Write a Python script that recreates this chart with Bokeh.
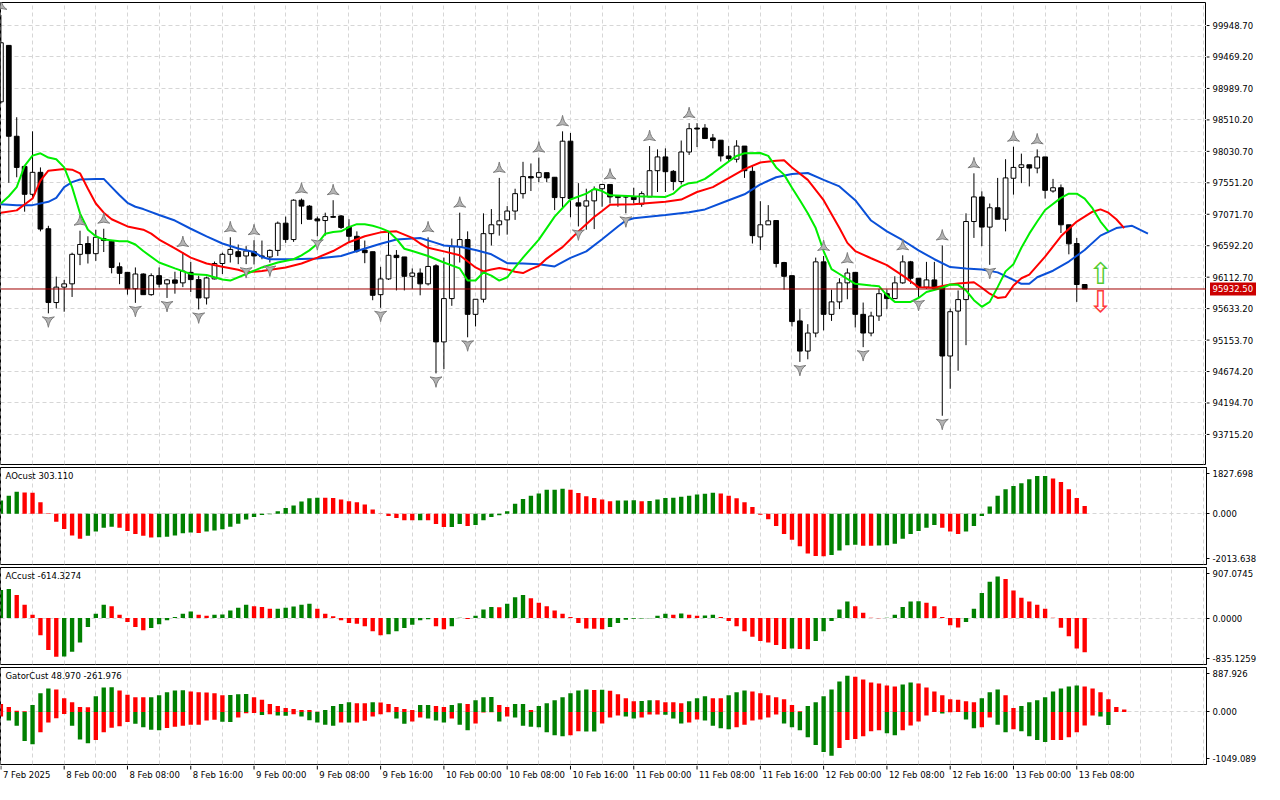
from bokeh.plotting import figure
from bokeh.layouts import column, row
from bokeh.models import Range1d, FixedTicker, Label, Span
from bokeh.core.properties import value
from bokeh.embed import file_html
from bokeh.resources import INLINE

# ---------------- data (bar index = hours since 7 Feb 2025 16:00) ----------------
time_labels = ["7 Feb 2025", "8 Feb 00:00", "8 Feb 08:00", "8 Feb 16:00", "9 Feb 00:00",
               "9 Feb 08:00", "9 Feb 16:00", "10 Feb 00:00", "10 Feb 08:00", "10 Feb 16:00",
               "11 Feb 00:00", "11 Feb 08:00", "11 Feb 16:00", "12 Feb 00:00", "12 Feb 08:00",
               "12 Feb 16:00", "13 Feb 00:00", "13 Feb 08:00"]
label_bars = [0, 8, 16, 24, 32, 40, 48, 56, 64, 72, 80, 88, 96, 104, 112, 120, 128, 136]

open_ = [98786, 99646, 98261, 97801, 97376, 97711, 96851, 95726, 95961, 96011,
         96461, 96626, 96471, 96701, 96661, 96271, 96186, 95936, 96161, 95846,
         96136, 96011, 96071, 96026, 96186, 96076, 95796, 96086, 96321, 96461,
         96501, 96436, 96501, 96436, 96421, 96521, 96936, 96686, 97286, 97196,
         97001, 96976, 97036, 97046, 96876, 96736, 96526, 96501, 95846, 96086,
         96446, 96421, 96126, 96176, 96011, 96286, 95126, 95786, 96576, 96686,
         95546, 95776, 96776, 96911, 96986, 97121, 97386, 97646, 97636, 97706,
         97636, 97326, 98186, 97246, 97196, 97276, 97461, 97526, 97346, 97336,
         97336, 97226, 97336, 97736, 97946, 97726, 97571, 98021, 98386, 98386,
         98236, 98201, 97961, 97911, 98111, 97726, 96726, 96911, 96976, 96336,
         96136, 95446, 94986, 95261, 96346, 95546, 95736, 96026, 96186, 95546,
         95261, 95521, 95861, 95786, 96026, 96346, 96096, 95961, 96071, 95961,
         94911, 95596, 95771, 96961, 97336, 96876, 97171, 96996, 97621, 97786,
         97826, 97776, 97946, 97426, 97476, 96911, 96626, 96001]
high = [100110, 99650, 98551, 97820, 98336, 97786, 96896, 96121, 96071, 96486,
        96821, 96736, 96836, 96851, 96671, 96336, 96186, 96261, 96171, 96171,
        96261, 96086, 96196, 96496, 96346, 96136, 96121, 96351, 96486, 96721,
        96611, 96586, 96676, 96671, 96536, 96961, 97036, 97301, 97311, 97211,
        97036, 97096, 97286, 97061, 96996, 96811, 96671, 96501, 96271, 96811,
        96526, 96421, 96246, 96246, 96720, 96311, 96411, 96701, 97096, 96811,
        95776, 97086, 97151, 97626, 97196, 97461, 97871, 97846, 97936, 97706,
        97636, 98336, 98311, 97546, 97461, 97496, 97526, 97526, 97346, 97346,
        97476, 97421, 98111, 98061, 98076, 97746, 98196, 98461, 98461, 98446,
        98296, 98201, 98111, 98201, 98111, 97811, 97271, 97211, 96976, 96346,
        96136, 95626, 95396, 96411, 96436, 95921, 96096, 96246, 96186, 95726,
        95586, 95936, 95926, 96126, 96446, 96361, 96096, 96346, 96346, 96596,
        95636, 95911, 97086, 97696, 97421, 97236, 97626, 97911, 98101, 97996,
        97826, 98061, 97946, 97611, 97526, 96911, 96711, 96001]
low = [98760, 97551, 97636, 97111, 97336, 96811, 95561, 95636, 95586, 95811,
       96296, 96321, 96361, 96496, 96171, 96006, 95846, 95721, 95846, 95830,
       95956, 95796, 95861, 95961, 95886, 95621, 95696, 96080, 96161, 96336,
       96311, 96311, 96306, 96386, 96336, 96436, 96636, 96651, 96921, 96996,
       96736, 96746, 97016, 96846, 96636, 96486, 96326, 95761, 95646, 96071,
       95911, 95911, 95936, 95836, 95986, 94646, 94711, 95676, 96336, 95196,
       95361, 95726, 96596, 96746, 96761, 96986, 97311, 97426, 97561, 97561,
       97136, 97161, 97026, 96886, 96836, 96846, 97186, 97236, 97186, 97086,
       97236, 97186, 97336, 97411, 97411, 97436, 97526, 97976, 98096, 98226,
       98076, 97876, 97871, 97861, 97626, 96626, 96526, 96911, 96261, 95921,
       95361, 94821, 94861, 95196, 95301, 95446, 95626, 95776, 95346, 95046,
       95211, 95446, 95626, 95786, 96011, 96011, 95811, 95936, 95946, 94000,
       94411, 94686, 95076, 96711, 96586, 96301, 96996, 96811, 97371, 97546,
       97496, 97696, 97311, 97401, 96786, 96461, 95736, 95932.5]
close = [99686, 98261, 97786, 97376, 97711, 96846, 95726, 95961, 96011, 96461,
         96611, 96471, 96721, 96671, 96261, 96171, 95936, 96161, 95846, 96136,
         96006, 96071, 96021, 96206, 96076, 95796, 96101, 96321, 96461, 96536,
         96426, 96511, 96436, 96426, 96521, 96936, 96686, 97286, 97196, 96996,
         96971, 97036, 97026, 96871, 96736, 96511, 96486, 95836, 96086, 96446,
         96411, 96126, 96176, 96011, 96276, 95126, 95786, 96576, 96686, 95546,
         95776, 96776, 96911, 96971, 97121, 97386, 97646, 97626, 97706, 97626,
         97326, 98186, 97311, 97196, 97276, 97446, 97526, 97336, 97326, 97336,
         97296, 97386, 97736, 97946, 97721, 97571, 98021, 98376, 98371, 98226,
         98196, 97961, 97921, 98111, 97736, 96746, 96911, 96971, 96321, 96126,
         95436, 94986, 95261, 96346, 95546, 95736, 96026, 96176, 95546, 95261,
         95521, 95861, 95786, 96026, 96346, 96096, 95961, 96071, 95946, 94911,
         95586, 95771, 96961, 97336, 96876, 97171, 96996, 97626, 97786, 97826,
         97776, 97946, 97436, 97476, 96911, 96621, 96001, 95932.5]
current_price = 95932.5
current_price_text = "95932.50"

# Alligator lines (read at sampled bars; drawn shifted forward as on the chart)
jaw_x = [0, 2, 4, 6, 7, 8, 9, 10, 12, 13, 14, 15, 16, 17, 18, 20, 22, 24, 26, 28,
         30, 32, 33, 34, 37, 40, 43, 45, 48, 50, 53, 55, 56, 58, 60, 62, 64, 66, 68, 70,
         72, 74, 76, 78, 79, 80, 84, 87, 89, 92, 94, 96, 98, 100, 102, 104, 106, 108, 110, 112,
         114, 116, 118, 120, 122, 124, 126, 128, 129, 130, 131, 133, 135, 137, 139, 141, 143, 145]
jaw_y = [97226, 97211, 97211, 97261, 97321, 97486, 97561, 97601, 97611, 97611,
         97486, 97361, 97246, 97186, 97151, 97061, 96976, 96851, 96736, 96626,
         96551, 96496, 96421, 96386, 96386, 96396, 96436, 96511, 96621, 96686,
         96711, 96636, 96596, 96576, 96526, 96461, 96326, 96321, 96311, 96276,
         96406, 96506, 96691, 96886, 96976, 97011, 97061, 97101, 97146, 97286,
         97376, 97526, 97636, 97686, 97701, 97596, 97496, 97286, 96976, 96811,
         96676, 96521, 96386, 96266, 96246, 96231, 96186, 96071, 96011, 96011,
         96111, 96211, 96351, 96526, 96746, 96861, 96896, 96776]
teeth_x = [0, 2, 4, 5, 6, 8, 9, 10, 11, 12, 13, 14, 16, 18, 19, 20, 22, 24, 26, 28,
           30, 31, 33, 36, 38, 40, 42, 44, 46, 48, 50, 52, 53, 54, 56, 58, 60, 61, 62, 63,
           64, 65, 66, 67, 68, 69, 70, 71, 72, 73, 74, 75, 76, 77, 80, 84, 86, 88, 90, 92,
           94, 96, 98, 99, 100, 102, 104, 106, 107, 108, 110, 112, 114, 116, 118, 120, 121, 123, 124, 125,
           126, 127, 128, 129, 130, 132, 134, 136, 138, 139, 140, 141, 142]
teeth_y = [97096, 97131, 97311, 97586, 97736, 97761, 97751, 97696, 97461, 97236,
           97096, 96996, 96886, 96836, 96776, 96686, 96551, 96411, 96321, 96271,
           96226, 96186, 96206, 96261, 96321, 96411, 96511, 96646, 96736, 96796,
           96811, 96711, 96626, 96561, 96506, 96446, 96261, 96201, 96231, 96251,
           96231, 96196, 96176, 96236, 96286, 96396, 96486, 96571, 96691, 96811,
           96921, 97031, 97121, 97216, 97226, 97261, 97296, 97411, 97486, 97621,
           97761, 97861, 97886, 97896, 97786, 97596, 97286, 96861, 96636, 96511,
           96401, 96296, 96136, 95961, 95951, 96001, 96016, 96036, 95951, 95861,
           95796, 95811, 95986, 96096, 96151, 96426, 96736, 96961, 97111, 97146,
           97096, 96996, 96861]
lips_x = [0, 1, 2, 3, 4, 5, 6, 7, 8, 9, 10, 11, 12, 13, 15, 16, 17, 18, 20, 22,
          24, 26, 28, 29, 31, 33, 35, 37, 38, 39, 40, 41, 42, 43, 44, 45, 46, 47, 48, 49,
          50, 51, 52, 54, 56, 58, 59, 60, 61, 62, 63, 64, 65, 66, 68, 70, 72, 74, 75, 76,
          77, 80, 84, 85, 86, 87, 88, 89, 90, 91, 92, 93, 94, 96, 97, 98, 99, 100, 101, 102,
          103, 104, 105, 106, 108, 110, 111, 112, 113, 115, 116, 117, 119, 120, 121, 122, 123, 124, 125, 126,
          127, 128, 129, 130, 131, 132, 134, 135, 136, 137, 138, 139, 140]
lips_y = [97236, 97346, 97486, 97811, 97966, 98001, 97936, 97911, 97786, 97486,
          97086, 96836, 96736, 96686, 96661, 96661, 96611, 96511, 96336, 96246,
          96161, 96146, 96076, 96061, 96161, 96261, 96336, 96386, 96446, 96521,
          96621, 96776, 96801, 96811, 96876, 96921, 96921, 96896, 96861, 96811,
          96696, 96546, 96511, 96436, 96336, 96246, 96061, 96061, 96186, 96136,
          96061, 96111, 96261, 96411, 96686, 97036, 97296, 97386, 97461, 97426,
          97361, 97346, 97336, 97386, 97496, 97546, 97561, 97611, 97696, 97786,
          97876, 97961, 98001, 98006, 97961, 97786, 97676, 97476, 97286, 97086,
          96861, 96511, 96236, 96161, 96011, 95986, 95976, 95836, 95736, 95736,
          95796, 95886, 95951, 96001, 95996, 95911, 95761, 95661, 95736, 95961,
          96201, 96311, 96561, 96776, 96961, 97136, 97321, 97386, 97386, 97311,
          97161, 96961, 96811]

# Fractals
up_fractal_bars = [0, 10, 13, 23, 29, 32, 38, 42, 54, 58, 63, 68, 71, 77, 82, 87,
                   104, 107, 114, 119, 123, 128, 131]
down_fractal_bars = [6, 17, 21, 25, 31, 34, 40, 48, 55, 59, 73, 79, 101, 109, 116, 119, 125]

# Signal arrows
signal_bar = 139
signal_up_price = 96166
signal_down_price = 95738

ao = [517, 711, 866, 840, 828, 453, 13, -323, -608, -866,
      -996, -879, -711, -556, -517, -556, -685, -802, -879, -944,
      -931, -918, -866, -776, -750, -763, -711, -672, -621, -517,
      -401, -233, -129, -52, -26, 91, 220, 323, 478, 608,
      634, 630, 620, 556, 491, 453, 362, 168, -10, -91,
      -168, -259, -262, -259, -262, -414, -530, -527, -414, -491,
      -453, -259, -129, -65, 91, 388, 582, 711, 802, 944,
      948, 983, 944, 815, 685, 621, 556, 491, 517, 522,
      527, 491, 504, 556, 621, 634, 672, 711, 763, 789,
      828, 802, 711, 608, 453, 259, -39, -220, -491, -802,
      -1034, -1293, -1577, -1681, -1690, -1642, -1461, -1254, -1228, -1267,
      -1272, -1265, -1254, -1190, -996, -802, -685, -556, -453, -556,
      -711, -802, -711, -491, -91, 284, 711, 970, 1099, 1202,
      1358, 1487, 1492, 1396, 1254, 970, 621, 303.11]
ac = [504, 522, 415, 237, 59, -308, -575, -694, -690, -605,
      -439, -160, 77, 237, 213, 59, -71, -160, -219, -178,
      -113, -42, 18, 77, 119, 59, 42, 60, 62, 136,
      184, 237, 213, 196, 166, 168, 184, 208, 237, 255,
      166, 77, 30, -42, -89, -101, -148, -237, -308, -291,
      -237, -178, -119, -42, -24, -148, -202, -148, 6, -18,
      42, 154, 196, 193, 255, 374, 415, 356, 273, 213,
      136, 77, 18, -89, -190, -193, -202, -160, -89, -30,
      -15, -8, -3, 42, 77, 59, 80, 59, 42, 45,
      59, 18, -53, -148, -237, -338, -415, -439, -486, -557,
      -546, -557, -560, -415, -237, -53, 154, 297, 213, 95,
      6, -3, 5, 59, 196, 297, 300, 273, 213, 18,
      -130, -172, -71, 166, 451, 652, 747, 700, 492, 362,
      297, 237, 166, 6, -176, -326, -546, -614.3274]
gator_up = [157, 98, 26, 12, 137, 372, 470, 451, 274, 196,
            98, 96, 313, 490, 493, 431, 346, 294, 292, 295,
            333, 392, 431, 433, 411, 392, 390, 372, 333, 340,
            353, 359, 294, 242, 157, 118, 78, 59, 39, 37,
            5, 39, 118, 157, 196, 176, 174, 196, 190, 157,
            98, 59, 39, 137, 140, 118, 98, 137, 176, 157,
            235, 294, 297, 137, 98, 157, 160, 39, 118, 176,
            235, 294, 372, 431, 451, 440, 445, 425, 353, 274,
            215, 218, 235, 232, 196, 194, 176, 215, 274, 313,
            274, 272, 333, 392, 431, 411, 372, 333, 294, 255,
            137, 13, 118, 196, 313, 451, 607, 725, 705, 646,
            588, 568, 529, 509, 549, 588, 568, 490, 411, 333,
            255, 242, 215, 196, 274, 392, 451, 333, 78, 118,
            196, 235, 294, 411, 470, 509, 529, 509, 470, 392,
            255, 98, 48.97]
gator_down = [-91, -170, -274, -581, -646, -405, -209, -124, -39, -274,
              -549, -627, -562, -405, -313, -287, -202, -235, -307, -353,
              -366, -320, -294, -274, -255, -253, -170, -157, -196, -198,
              -111, -26, -22, -59, -46, -72, -74, -46, -91, -163,
              -209, -255, -274, -209, -211, -209, -176, -91, -46, -7,
              -131, -235, -189, -111, -131, -170, -209, -131, -255, -366,
              -229, -13, -8, -189, -91, -111, -274, -294, -307, -405,
              -464, -483, -464, -385, -388, -390, -229, -111, -72, -91,
              -131, -111, -52, -50, -55, -131, -229, -209, -150, -170,
              -274, -327, -346, -307, -255, -170, -150, -111, -52, -229,
              -307, -366, -503, -660, -797, -875, -718, -562, -542, -483,
              -385, -366, -425, -464, -366, -268, -189, -72, -3, -33,
              -7, -3, -150, -327, -307, -111, -255, -405, -346, -385,
              -483, -562, -601, -562, -558, -503, -405, -268, -72, -91,
              -261.976]

price_ticks = [99948.70, 99469.20, 98989.70, 98510.20, 98030.70, 97551.20, 97071.70,
               96592.20, 96112.70, 95633.20, 95153.70, 94674.20, 94194.70, 93715.20]
ao_scale = (-2013.638, 1827.698)
ac_scale = (-835.1259, 907.0745)
gator_scale = (-1049.089, 887.926)

# ---------------- styling ----------------
FONT = "DejaVu Sans"
FS = "8.5px"
GREEN = "#008000"
RED = "#FF0000"
GRID = "#D6D6D6"
FRAME_W = 1206
AXIS_W = 58
X0, X1 = -0.05, 152.4
PX_X = (X1 - X0) / FRAME_W
xr = Range1d(X0, X1)


def trend_colors(vals, first):
    cols = [first]
    for i in range(1, len(vals)):
        cols.append(GREEN if vals[i] > vals[i - 1] else RED)
    return cols


def make_fig(frame_h, y_range, top, bottom, right_axis=True):
    p = figure(frame_width=FRAME_W, frame_height=frame_h, x_range=xr, y_range=y_range,
               y_axis_location="right" if right_axis else None, toolbar_location=None,
               output_backend="svg", min_border_left=0,
               min_border_right=AXIS_W if right_axis else 0, min_border_top=top,
               min_border_bottom=bottom)
    p.outline_line_color = "black"
    p.outline_line_alpha = 1.0
    p.outline_line_width = 1
    p.background_fill_color = "white"
    p.border_fill_color = "white"
    p.xaxis.visible = False
    p.xgrid.ticker = FixedTicker(ticks=list(range(0, 153, 4)))
    p.xgrid.grid_line_color = GRID
    p.xgrid.grid_line_dash = "4 3"
    p.ygrid.grid_line_color = GRID
    p.ygrid.grid_line_dash = "4 3"
    if right_axis:
        ax = p.yaxis[0]
        ax.axis_line_color = "black"
        ax.major_tick_line_color = "black"
        ax.major_tick_out = 3
        ax.major_tick_in = 0
        ax.minor_tick_out = 0
        ax.minor_tick_in = 0
        ax.major_label_standoff = 3
        ax.major_label_text_font = FONT
        ax.major_label_text_font_size = FS
        ax.major_label_text_color = "black"
    return p


def panel_label(p, text, y0, y1, frame_h):
    py = (y1 - y0) / frame_h
    p.add_layout(Label(x=X0 + 5 * PX_X, y=y1 - 3 * py, text=text, text_font=FONT,
                       text_font_size=FS, text_color="black", text_baseline="top",
                       text_align="left"))


def side_ticks(p, lo, hi, frame_h, fmt_lo, fmt_mid, fmt_hi):
    d = (hi - lo) / frame_h * 6
    t_lo, t_hi = lo + d, hi - d
    ax = p.yaxis[0]
    ax.ticker = FixedTicker(ticks=[t_lo, 0.0, t_hi])
    ax.major_label_overrides = {t_lo: fmt_lo, 0.0: fmt_mid, t_hi: fmt_hi}
    p.ygrid.ticker = FixedTicker(ticks=[0.0])


# ---------------- main price panel ----------------
MAIN_H = 462
P_LO, P_HI = 93257, 100300
PY = (P_HI - P_LO) / MAIN_H
yr_main = Range1d(P_LO, P_HI)
pm = make_fig(MAIN_H, yr_main, 2, 2, right_axis=False)
pm.ygrid.ticker = FixedTicker(ticks=price_ticks)

n = len(open_)
idx = list(range(n))
body_top = [max(o, c) for o, c in zip(open_, close)]
body_bot = [min(o, c) for o, c in zip(open_, close)]
body_fill = ["white" if c > o else "black" for o, c in zip(open_, close)]

pm.segment(x0=idx, y0=low, x1=idx, y1=high, line_color="black", line_width=1)
pm.vbar(x=idx, width=0.6, top=body_top, bottom=body_bot, fill_color=body_fill,
        line_color="black", line_width=1)

pm.add_layout(Span(location=current_price, dimension="width", line_color="#A00000", line_width=1))

pm.line(jaw_x, jaw_y, line_color="#0A50D8", line_width=2)
pm.line(teeth_x, teeth_y, line_color="#FF0000", line_width=2)
pm.line(lips_x, lips_y, line_color="#00EE00", line_width=2)

pm.scatter(x=up_fractal_bars, y=[high[i] + 9 * PY for i in up_fractal_bars],
           marker="triangle_pin", size=12, fill_color="#B4B4B4", line_color="#7C7C7C",
           line_width=1)
pm.scatter(x=down_fractal_bars, y=[low[i] - 7 * PY for i in down_fractal_bars],
           marker="triangle_pin", size=12, angle=3.14159, fill_color="#B4B4B4",
           line_color="#7C7C7C", line_width=1)

pm.text(x=[signal_bar], y=[signal_up_price], text=["\u21e7"], text_align="center",
        text_baseline="middle", text_color="#55CC33", text_font=value("DejaVu Sans"),
        text_font_size="30px")
pm.text(x=[signal_bar], y=[signal_down_price], text=["\u21e9"], text_align="center",
        text_baseline="middle", text_color="#FF3B3B", text_font=value("DejaVu Sans"),
        text_font_size="30px")

# price scale drawn in its own strip (so the current-price tag can sit on it)
pax = figure(frame_width=AXIS_W, frame_height=MAIN_H, x_range=Range1d(0, AXIS_W),
             y_range=yr_main, x_axis_location=None, y_axis_location=None,
             toolbar_location=None, output_backend="svg", min_border_left=0,
             min_border_right=0, min_border_top=2, min_border_bottom=2)
pax.outline_line_color = None
pax.grid.visible = False
pax.background_fill_color = "white"
pax.border_fill_color = "white"
pax.segment(x0=[0] * len(price_ticks), y0=price_ticks, x1=[3] * len(price_ticks),
            y1=price_ticks, line_color="black", line_width=1)
pax.text(x=[6] * len(price_ticks), y=price_ticks, text=["%.2f" % t for t in price_ticks],
         text_align="left", text_baseline="middle", text_color="black",
         text_font=value(FONT), text_font_size=FS)
pax.rect(x=[26.5], y=[current_price], width=46, height=13, width_units="screen",
         height_units="screen", fill_color="#CC0000", line_color=None)
pax.text(x=[6], y=[current_price], text=[current_price_text], text_align="left",
         text_baseline="middle", text_color="white", text_font=value(FONT), text_font_size=FS)

# ---------------- AO panel ----------------
SUB_H = 97
pa = make_fig(SUB_H, Range1d(*ao_scale), 1, 2)
side_ticks(pa, ao_scale[0], ao_scale[1], SUB_H, "-2013.638", "0.000", "1827.698")
pa.vbar(x=list(range(len(ao))), width=0.55, top=ao, bottom=0,
        fill_color=trend_colors(ao, GREEN), line_color=None)
panel_label(pa, "AOcust 303.110", ao_scale[0], ao_scale[1], SUB_H)

# ---------------- AC panel ----------------
pc = make_fig(SUB_H, Range1d(*ac_scale), 1, 2)
side_ticks(pc, ac_scale[0], ac_scale[1], SUB_H, "-835.1259", "0.0000", "907.0745")
pc.vbar(x=list(range(len(ac))), width=0.55, top=ac, bottom=0,
        fill_color=trend_colors(ac, GREEN), line_color=None)
panel_label(pc, "ACcust -614.3274", ac_scale[0], ac_scale[1], SUB_H)

# ---------------- Gator panel ----------------
pg = make_fig(SUB_H, Range1d(*gator_scale), 1, 1)
side_ticks(pg, gator_scale[0], gator_scale[1], SUB_H, "-1049.089", "0.000", "887.926")
pg.vbar(x=list(range(len(gator_up))), width=0.55, top=gator_up, bottom=0,
        fill_color=trend_colors(gator_up, RED), line_color=None)
pg.vbar(x=list(range(len(gator_down))), width=0.55, top=0, bottom=gator_down,
        fill_color=trend_colors([-v for v in gator_down], RED), line_color=None)
panel_label(pg, "GatorCust 48.970 -261.976", gator_scale[0], gator_scale[1], SUB_H)

# ---------------- time scale strip ----------------
STRIP_H = 18
pt = figure(frame_width=FRAME_W, frame_height=STRIP_H, x_range=xr, y_range=Range1d(0, STRIP_H),
            x_axis_location=None, y_axis_location=None, toolbar_location=None,
            output_backend="svg", min_border_left=0, min_border_right=AXIS_W,
            min_border_top=0, min_border_bottom=0)
pt.outline_line_color = None
pt.grid.visible = False
pt.background_fill_color = "white"
pt.border_fill_color = "white"
pt.segment(x0=label_bars, y0=[STRIP_H] * len(label_bars), x1=label_bars,
           y1=[STRIP_H - 4] * len(label_bars), line_color="black", line_width=1)
pt.text(x=label_bars, y=[STRIP_H - 9] * len(label_bars), text=time_labels, x_offset=2,
        text_align="left", text_baseline="middle", text_color="black",
        text_font=value(FONT), text_font_size=FS)

layout = column(row(pm, pax, spacing=0), pa, pc, pg, pt, spacing=0)
open("out.html", "w").write(file_html(layout, INLINE))
